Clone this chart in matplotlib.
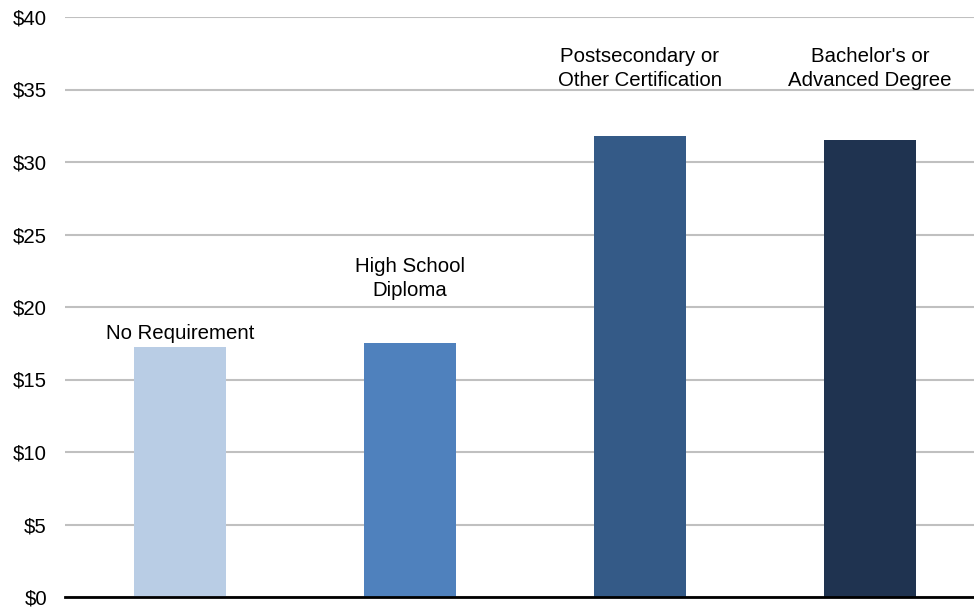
import matplotlib.pyplot as plt

plt.rcParams["font.family"] = ["Liberation Sans", "DejaVu Sans"]

# Median hourly wage by education requirement
categories = [
    "No Requirement",
    "High School\nDiploma",
    "Postsecondary or\nOther Certification",
    "Bachelor's or\nAdvanced Degree",
]
wages = [17.25, 17.5, 31.8, 31.55]
bar_colors = ["#B9CDE5", "#4F81BD", "#345A87", "#1F3350"]
y_ticks = [0, 5, 10, 15, 20, 25, 30, 35, 40]

# baseline of each category label (data units)
label_y = [17.8, 20.75, 35.25, 35.25]

fig = plt.figure(figsize=(9.74, 6.08), dpi=100)
ax = fig.add_axes([65 / 974, 11 / 608, 920 / 974, 580 / 608])

x = range(len(categories))
ax.bar(x, wages, width=0.4, color=bar_colors, zorder=3)

for xi, lbl, ly in zip(x, categories, label_y):
    ax.text(xi, ly, lbl, ha="center", va="baseline", fontsize=14.7,
            linespacing=1.35, zorder=4)

ax.set_xlim(-0.5, 3.5)
ax.set_ylim(0, 40)
ax.set_yticks(y_ticks)
ax.set_yticklabels([f"${v}" for v in y_ticks], fontsize=14.7)
ax.set_xticks([])
ax.tick_params(axis="y", length=0, pad=13)
ax.grid(axis="y", color="#C0C0C0", linewidth=1.5, zorder=0)

for side in ["top", "right", "left"]:
    ax.spines[side].set_visible(False)
ax.spines["bottom"].set_color("black")
ax.spines["bottom"].set_linewidth(2)
ax.spines["bottom"].set_zorder(5)

fig.savefig("out.png", dpi=100)
